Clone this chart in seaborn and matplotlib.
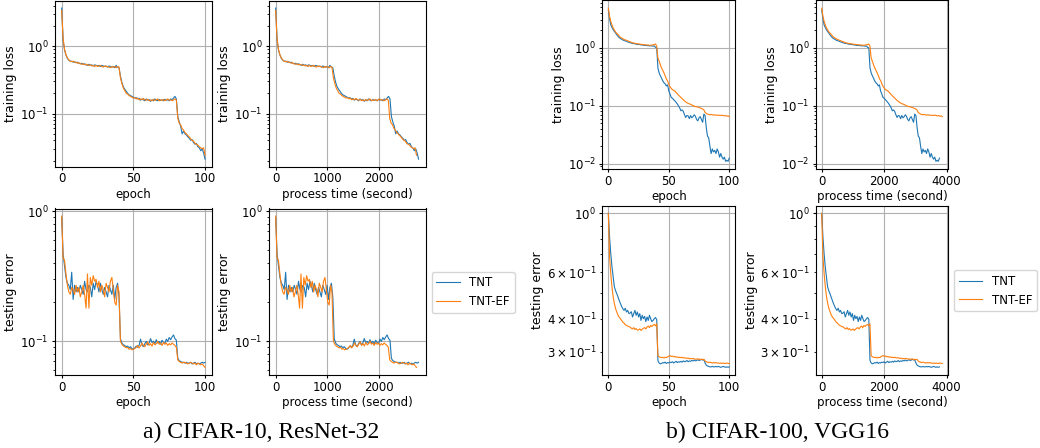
import numpy as np
import pandas as pd
import matplotlib
matplotlib.use("Agg")
import matplotlib.pyplot as plt
import seaborn as sns

# DATA (one value per epoch 0..100)
epochs = list(range(101))

c10_train_tnt = [
    3.7, 1.25, 0.88, 0.74, 0.66, 0.62, 0.60, 0.60, 0.58, 0.59,
    0.57, 0.58, 0.56, 0.55, 0.56, 0.54, 0.55, 0.53, 0.52, 0.54,
    0.52, 0.53, 0.51, 0.53, 0.52, 0.51, 0.52, 0.50, 0.52, 0.51,
    0.50, 0.51, 0.49, 0.51, 0.50, 0.49, 0.50, 0.48, 0.52, 0.49,
    0.48, 0.36, 0.29, 0.25, 0.23, 0.215, 0.20, 0.19, 0.185, 0.18,
    0.175, 0.17, 0.172, 0.165, 0.168, 0.158, 0.165, 0.16, 0.155, 0.165,
    0.158, 0.162, 0.152, 0.16, 0.155, 0.165, 0.158, 0.155, 0.162, 0.157,
    0.16, 0.155, 0.163, 0.158, 0.16, 0.155, 0.165, 0.16, 0.17, 0.18,
    0.165, 0.09, 0.075, 0.065, 0.05, 0.055, 0.05, 0.048, 0.045, 0.043,
    0.04, 0.041, 0.037, 0.035, 0.036, 0.032, 0.031, 0.028, 0.03, 0.026,
    0.021]
c10_train_ef = [
    3.4, 1.3, 0.9, 0.75, 0.67, 0.63, 0.6, 0.59, 0.6, 0.58,
    0.58, 0.56, 0.57, 0.55, 0.54, 0.55, 0.53, 0.54, 0.53, 0.52,
    0.53, 0.51, 0.52, 0.5, 0.52, 0.5, 0.51, 0.52, 0.5, 0.49,
    0.51, 0.5, 0.5, 0.49, 0.48, 0.5, 0.49, 0.5, 0.48, 0.5,
    0.49, 0.34, 0.28, 0.24, 0.22, 0.2, 0.195, 0.185, 0.18, 0.175,
    0.17, 0.172, 0.165, 0.17, 0.16, 0.165, 0.16, 0.168, 0.16, 0.158,
    0.163, 0.155, 0.16, 0.155, 0.162, 0.157, 0.16, 0.165, 0.155, 0.16,
    0.157, 0.162, 0.155, 0.16, 0.165, 0.158, 0.16, 0.155, 0.16, 0.165,
    0.158, 0.085, 0.072, 0.068, 0.06, 0.057, 0.052, 0.05, 0.047, 0.045,
    0.042, 0.04, 0.039, 0.036, 0.035, 0.034, 0.032, 0.031, 0.03, 0.031,
    0.024]
c10_test_tnt = [
    0.90, 0.47, 0.38, 0.31, 0.28, 0.27, 0.25, 0.34, 0.21, 0.27,
    0.24, 0.26, 0.24, 0.27, 0.25, 0.23, 0.29, 0.25, 0.24, 0.27,
    0.26, 0.22, 0.28, 0.25, 0.29, 0.27, 0.24, 0.28, 0.25, 0.23,
    0.26, 0.24, 0.22, 0.27, 0.25, 0.23, 0.27, 0.21, 0.26, 0.28,
    0.22, 0.105, 0.097, 0.094, 0.093, 0.091, 0.092, 0.089, 0.091, 0.088,
    0.087, 0.089, 0.092, 0.09, 0.093, 0.104, 0.094, 0.091, 0.096, 0.1,
    0.094, 0.097, 0.105, 0.098, 0.1, 0.096, 0.103, 0.097, 0.1, 0.095,
    0.102, 0.098, 0.096, 0.104, 0.1, 0.107, 0.103, 0.108, 0.112, 0.105,
    0.102, 0.074, 0.071, 0.07, 0.069, 0.069, 0.068, 0.069, 0.068, 0.068,
    0.069, 0.067, 0.068, 0.069, 0.067, 0.068, 0.067, 0.068, 0.069, 0.068,
    0.069]
c10_test_ef = [
    0.92, 0.44, 0.42, 0.33, 0.27, 0.24, 0.23, 0.26, 0.25, 0.23,
    0.27, 0.24, 0.26, 0.22, 0.24, 0.27, 0.23, 0.18, 0.33, 0.18,
    0.31, 0.27, 0.32, 0.29, 0.3, 0.26, 0.29, 0.24, 0.27, 0.25,
    0.22, 0.28, 0.26, 0.24, 0.29, 0.31, 0.25, 0.2, 0.19, 0.27,
    0.24, 0.1, 0.095, 0.092, 0.091, 0.089, 0.09, 0.087, 0.088, 0.086,
    0.087, 0.088, 0.09, 0.093, 0.089, 0.092, 0.097, 0.093, 0.091, 0.095,
    0.099, 0.093, 0.096, 0.092, 0.098, 0.094, 0.096, 0.1, 0.095, 0.097,
    0.093, 0.098, 0.095, 0.097, 0.093, 0.096, 0.094, 0.097, 0.095, 0.093,
    0.09, 0.072, 0.07, 0.069, 0.068, 0.069, 0.069, 0.068, 0.067, 0.068,
    0.069, 0.068, 0.067, 0.068, 0.066, 0.068, 0.067, 0.066, 0.067, 0.065,
    0.063]

c100_train_tnt = [
    4.5, 3.2, 2.5, 2.25, 2.06, 1.92, 1.8, 1.68, 1.58, 1.5,
    1.45, 1.41, 1.37, 1.34, 1.32, 1.3, 1.27, 1.25, 1.23, 1.21,
    1.19, 1.2, 1.17, 1.16, 1.15, 1.14, 1.15, 1.12, 1.13, 1.11,
    1.1, 1.11, 1.09, 1.1, 1.08, 1.09, 1.08, 1.07, 1.08, 1.02,
    1.0, 0.45, 0.37, 0.33, 0.3, 0.27, 0.25, 0.24, 0.22, 0.23,
    0.18, 0.16, 0.14, 0.135, 0.128, 0.122, 0.115, 0.108, 0.1, 0.092,
    0.082, 0.085, 0.08, 0.07, 0.063, 0.068, 0.067, 0.06, 0.068, 0.062,
    0.065, 0.07, 0.066, 0.058, 0.055, 0.062, 0.065, 0.058, 0.052, 0.072,
    0.068, 0.042, 0.03, 0.028, 0.02, 0.015, 0.018, 0.016, 0.017, 0.015,
    0.018, 0.016, 0.013, 0.015, 0.013, 0.012, 0.013, 0.011, 0.0115, 0.011,
    0.0125]
c100_train_ef = [
    4.85, 3.5, 2.86, 2.5, 2.2, 2.03, 1.88, 1.78, 1.69, 1.6,
    1.52, 1.48, 1.44, 1.4, 1.37, 1.35, 1.32, 1.3, 1.27, 1.25,
    1.22, 1.21, 1.2, 1.18, 1.18, 1.17, 1.16, 1.15, 1.15, 1.14,
    1.13, 1.13, 1.12, 1.12, 1.11, 1.11, 1.12, 1.13, 1.14, 1.17,
    1.07, 0.67, 0.59, 0.51, 0.45, 0.41, 0.37, 0.33, 0.29, 0.27,
    0.235, 0.215, 0.2, 0.19, 0.185, 0.18, 0.17, 0.162, 0.153, 0.146,
    0.14, 0.133, 0.127, 0.122, 0.117, 0.113, 0.11, 0.108, 0.106, 0.104,
    0.1, 0.099, 0.097, 0.096, 0.095, 0.094, 0.092, 0.09, 0.088, 0.085,
    0.077, 0.074, 0.072, 0.071, 0.07, 0.071, 0.07, 0.069, 0.07, 0.069,
    0.069, 0.068, 0.069, 0.068, 0.069, 0.068, 0.067, 0.068, 0.066, 0.067,
    0.065]
c100_test_tnt = [
    1.0, 0.815, 0.705, 0.628, 0.575, 0.527, 0.51, 0.497, 0.483, 0.469,
    0.456, 0.445, 0.436, 0.43, 0.438, 0.424, 0.43, 0.418, 0.42, 0.425,
    0.406, 0.418, 0.43, 0.412, 0.424, 0.406, 0.418, 0.394, 0.412, 0.4,
    0.408, 0.39, 0.406, 0.394, 0.412, 0.4, 0.39, 0.394, 0.4, 0.404,
    0.397, 0.278, 0.272, 0.27, 0.271, 0.273, 0.272, 0.274, 0.271, 0.273,
    0.272, 0.274, 0.273, 0.275, 0.272, 0.274, 0.276, 0.273, 0.275, 0.274,
    0.276, 0.274, 0.277, 0.275, 0.276, 0.278, 0.275, 0.277, 0.276, 0.278,
    0.277, 0.279, 0.277, 0.278, 0.28, 0.278, 0.279, 0.281, 0.279, 0.28,
    0.272, 0.267, 0.265, 0.264, 0.263, 0.263, 0.264, 0.263, 0.263, 0.264,
    0.263, 0.264, 0.263, 0.262, 0.263, 0.264, 0.263, 0.262, 0.263, 0.262,
    0.263]
c100_test_ef = [
    1.0, 0.685, 0.592, 0.527, 0.483, 0.456, 0.436, 0.424, 0.412, 0.405,
    0.4, 0.394, 0.388, 0.385, 0.38, 0.377, 0.375, 0.373, 0.372, 0.368,
    0.366, 0.37, 0.364, 0.367, 0.362, 0.363, 0.366, 0.361, 0.365, 0.368,
    0.37, 0.366, 0.372, 0.375, 0.37, 0.377, 0.374, 0.378, 0.38, 0.376,
    0.383, 0.29, 0.287, 0.286, 0.285, 0.286, 0.284, 0.286, 0.285, 0.287,
    0.289, 0.29, 0.288, 0.289, 0.287, 0.288, 0.286, 0.287, 0.285, 0.286,
    0.285, 0.286, 0.284, 0.285, 0.284, 0.283, 0.284, 0.282, 0.283, 0.282,
    0.283, 0.282, 0.281, 0.282, 0.281, 0.282, 0.28, 0.281, 0.28, 0.281,
    0.277, 0.275, 0.274, 0.273, 0.274, 0.273, 0.272, 0.273, 0.272, 0.273,
    0.272, 0.272, 0.271, 0.272, 0.271, 0.272, 0.271, 0.271, 0.272, 0.271,
    0.271]

# seconds per epoch, used for the "process time" panels
c10_sec_per_epoch = {"TNT": 27.6, "TNT-EF": 27.2}
c100_sec_per_epoch = {"TNT": 37.7, "TNT-EF": 38.6}

methods = ["TNT", "TNT-EF"]
colors = ["tab:blue", "tab:orange"]


def make_df(train_tnt, train_ef, test_tnt, test_ef, sec):
    parts = []
    for name, tr, te in [("TNT", train_tnt, test_tnt), ("TNT-EF", train_ef, test_ef)]:
        d = pd.DataFrame({"method": name, "epoch": epochs, "train": tr, "test": te})
        d["time"] = d["epoch"] * sec[name]
        parts.append(d)
    return pd.concat(parts, ignore_index=True)


df10 = make_df(c10_train_tnt, c10_train_ef, c10_test_tnt, c10_test_ef, c10_sec_per_epoch)
df100 = make_df(c100_train_tnt, c100_train_ef, c100_test_tnt, c100_test_ef, c100_sec_per_epoch)

# FIGURE
plt.rcParams.update({
    "font.size": 8.5,
    "xtick.major.size": 2.5,
    "ytick.major.size": 2.5,
    "xtick.minor.size": 1.5,
    "ytick.minor.size": 1.5,
    "xtick.major.pad": 1.5,
    "ytick.major.pad": 2.0,
    "ytick.minor.pad": 2.0,
    "axes.labelpad": 2.0,
})
W, H = 1040, 448
fig = plt.figure(figsize=(W / 100, H / 100), dpi=100)


def add_ax(l, t, r, b):
    return fig.add_axes([l / W, 1 - b / H, (r - l) / W, (b - t) / H])


# (box in px, data, x column, y column, xlabel, ylabel, xticks)
panels = [
    ((54.5, 0.5, 212.2, 166.7), df10, "epoch", "train", "epoch", "training loss", [0, 50, 100]),
    ((268.5, 0.5, 425.7, 166.7), df10, "time", "train", "process time (second)", "training loss", [0, 1000, 2000]),
    ((54.5, 208.5, 212.2, 375), df10, "epoch", "test", "epoch", "testing error", [0, 50, 100]),
    ((268.5, 208.5, 425.7, 375), df10, "time", "test", "process time (second)", "testing error", [0, 1000, 2000]),
    ((602.3, 0.5, 735.3, 169), df100, "epoch", "train", "epoch", "training loss", [0, 50, 100]),
    ((815.7, 0.5, 948.3, 169), df100, "time", "train", "process time (second)", "training loss", [0, 2000, 4000]),
    ((602.3, 205.7, 735.3, 375), df100, "epoch", "test", "epoch", "testing error", [0, 50, 100]),
    ((815.7, 205.7, 948.3, 375), df100, "time", "test", "process time (second)", "testing error", [0, 2000, 4000]),
]

axes = []
for box, data, xc, yc, xl, yl, xt in panels:
    ax = add_ax(*box)
    ax.set_yscale("log")
    sns.lineplot(data=data, x=xc, y=yc, hue="method", hue_order=methods,
                 palette=colors, linewidth=0.8, legend=False, ax=ax)
    ax.set_xticks(xt)
    ax.grid(True, which="major", color="#b0b0b0", linewidth=0.8)
    ax.set_xlabel(xl)
    ax.set_ylabel(yl, fontsize=9)
    axes.append(ax)

# LEGENDS
for ax, (lx, ty) in [(axes[3], (431.7, 271.7)), (axes[7], (954.0, 270.0))]:
    fig.legend(handles=ax.get_lines()[:2], labels=methods, loc="upper left",
               bbox_to_anchor=(lx / W, 1 - ty / H), borderaxespad=0, fontsize=8.5)

# CAPTIONS
fig.text(261 / W, 1 - 432 / H, "a) CIFAR-10, ResNet-32", ha="center", va="center",
         family="Liberation Serif", fontsize=17)
fig.text(777 / W, 1 - 432 / H, "b) CIFAR-100, VGG16", ha="center", va="center",
         family="Liberation Serif", fontsize=17)

fig.savefig("out.png", dpi=100)
